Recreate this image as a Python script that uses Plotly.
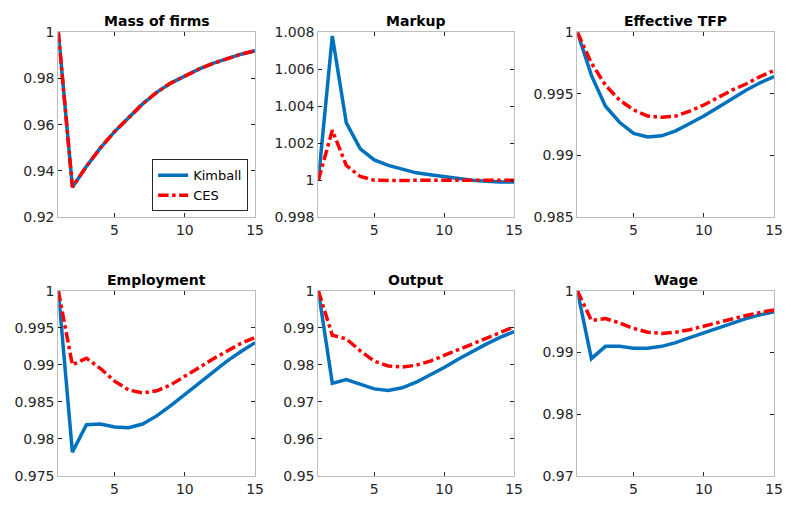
import plotly.graph_objects as go

periods = list(range(1, 16))

mass_kimball = [1.0, 0.933, 0.942, 0.950, 0.957, 0.963, 0.969, 0.974, 0.978, 0.981, 0.984, 0.9865, 0.9887, 0.9905, 0.992]
mass_ces = [1.0, 0.933, 0.942, 0.950, 0.957, 0.963, 0.969, 0.974, 0.978, 0.981, 0.984, 0.9865, 0.9887, 0.9905, 0.992]

markup_kimball = [1.0, 1.0078, 1.0031, 1.0017, 1.0011, 1.0008, 1.0006, 1.0004, 1.0003, 1.0002, 1.0001, 1.0000, 0.99995, 0.9999, 0.9999]
markup_ces = [1.0, 1.0027, 1.0008, 1.0002, 1.0000, 0.99998, 0.99998, 1.0, 1.0, 1.0, 1.0, 1.0, 1.0, 1.0, 1.0]

tfp_kimball = [1.0, 0.9965, 0.9940, 0.9927, 0.9918, 0.9915, 0.9916, 0.9920, 0.9926, 0.9932, 0.9939, 0.9946, 0.9953, 0.9959, 0.9964]
tfp_ces = [1.0, 0.9975, 0.9957, 0.9945, 0.9937, 0.9932, 0.9931, 0.9932, 0.9936, 0.9941, 0.9947, 0.9953, 0.9958, 0.9964, 0.9969]

emp_kimball = [1.0, 0.9782, 0.9819, 0.9820, 0.9816, 0.9815, 0.9820, 0.9831, 0.9845, 0.9860, 0.9875, 0.9890, 0.9905, 0.9918, 0.9930]
emp_ces = [1.0, 0.9900, 0.9909, 0.9895, 0.9878, 0.9866, 0.9862, 0.9865, 0.9873, 0.9884, 0.9896, 0.9908, 0.9919, 0.9929, 0.9937]

out_kimball = [1.0, 0.975, 0.976, 0.9748, 0.9735, 0.9731, 0.9738, 0.9753, 0.9772, 0.9793, 0.9815, 0.9836, 0.9856, 0.9874, 0.9890]
out_ces = [1.0, 0.988, 0.987, 0.9838, 0.9810, 0.9797, 0.9794, 0.9799, 0.9810, 0.9825, 0.9840, 0.9856, 0.9872, 0.9887, 0.9903]

wage_kimball = [1.0, 0.989, 0.991, 0.991, 0.9907, 0.9907, 0.9910, 0.9916, 0.9924, 0.9932, 0.9940, 0.9948, 0.9955, 0.9961, 0.9966]
wage_ces = [1.0, 0.9952, 0.9955, 0.9948, 0.9939, 0.9933, 0.9931, 0.9933, 0.9937, 0.9943, 0.9949, 0.9955, 0.9960, 0.9965, 0.9969]

titles = ["Mass of firms", "Markup", "Effective TFP", "Employment", "Output", "Wage"]

x_tickvals = [5, 10, 15]
x_ticktext = ["5", "10", "15"]

y_ticks = [
    ([0.92, 0.94, 0.96, 0.98, 1.0], ["0.92", "0.94", "0.96", "0.98", "1"]),
    ([0.998, 1.0, 1.002, 1.004, 1.006, 1.008], ["0.998", "1", "1.002", "1.004", "1.006", "1.008"]),
    ([0.985, 0.99, 0.995, 1.0], ["0.985", "0.99", "0.995", "1"]),
    ([0.975, 0.98, 0.985, 0.99, 0.995, 1.0], ["0.975", "0.98", "0.985", "0.99", "0.995", "1"]),
    ([0.95, 0.96, 0.97, 0.98, 0.99, 1.0], ["0.95", "0.96", "0.97", "0.98", "0.99", "1"]),
    ([0.97, 0.98, 0.99, 1.0], ["0.97", "0.98", "0.99", "1"]),
]
y_ranges = [(0.92, 1.0), (0.998, 1.008), (0.985, 1.0), (0.975, 1.0), (0.95, 1.0), (0.97, 1.0)]

series = [
    (mass_kimball, mass_ces),
    (markup_kimball, markup_ces),
    (tfp_kimball, tfp_ces),
    (emp_kimball, emp_ces),
    (out_kimball, out_ces),
    (wage_kimball, wage_ces),
]

W, H = 791, 510
col_px = [(59, 258), (322, 520), (584, 783)]
row_px = [(25, 216), (292, 483)]

BLUE = "#0072BD"
RED = "#FF0000"
FONT = "DejaVu Sans, Verdana, sans-serif"

fig = go.Figure()
layout = dict(
    width=W, height=H,
    margin=dict(l=0, r=0, t=0, b=0),
    paper_bgcolor="white", plot_bgcolor="white",
    font=dict(family=FONT, size=14, color="#262626"),
    showlegend=True,
    legend=dict(
        x=251 / W, xanchor="right", y=1 - 210 / H, yanchor="bottom",
        bordercolor="#262626", borderwidth=1, bgcolor="white",
        font=dict(family=FONT, size=13, color="#000000"),
        itemwidth=30, tracegroupgap=0,
    ),
    annotations=[],
)

for i in range(6):
    r, c = divmod(i, 3)
    idx = "" if i == 0 else str(i + 1)
    xa, ya = "x" + idx, "y" + idx
    kim, ces = series[i]
    fig.add_trace(go.Scatter(
        x=periods, y=kim, mode="lines", name="Kimball",
        line=dict(color=BLUE, width=3.5), xaxis=xa, yaxis=ya,
        showlegend=(i == 0)))
    fig.add_trace(go.Scatter(
        x=periods, y=ces, mode="lines", name="CES",
        line=dict(color=RED, width=3.5, dash="dashdot"), xaxis=xa, yaxis=ya,
        showlegend=(i == 0)))
    x0, x1 = col_px[c]
    y0, y1 = row_px[r]
    axcommon = dict(showline=True, mirror="ticks", linecolor="#bdbdbd", linewidth=1,
                    ticks="inside", ticklen=4, tickcolor="#262626", showgrid=False,
                    zeroline=False, tickfont=dict(family=FONT, size=14, color="#262626"))
    layout["xaxis" + idx] = dict(
        domain=[x0 / W, x1 / W], anchor=ya, range=[1, 15],
        tickmode="array", tickvals=x_tickvals, ticktext=x_ticktext, **axcommon)
    layout["yaxis" + idx] = dict(
        domain=[1 - y1 / H, 1 - y0 / H], anchor=xa, range=list(y_ranges[i]),
        tickmode="array", tickvals=y_ticks[i][0], ticktext=y_ticks[i][1], **axcommon)
    layout["annotations"].append(dict(
        text="<b>" + titles[i] + "</b>", x=(x0 + x1) / 2 / W, y=1 - (y0 - 1) / H,
        xref="paper", yref="paper", xanchor="center", yanchor="bottom",
        showarrow=False, font=dict(family=FONT, size=14, color="#000000")))

fig.update_layout(**layout)
fig.write_html("out.html")
